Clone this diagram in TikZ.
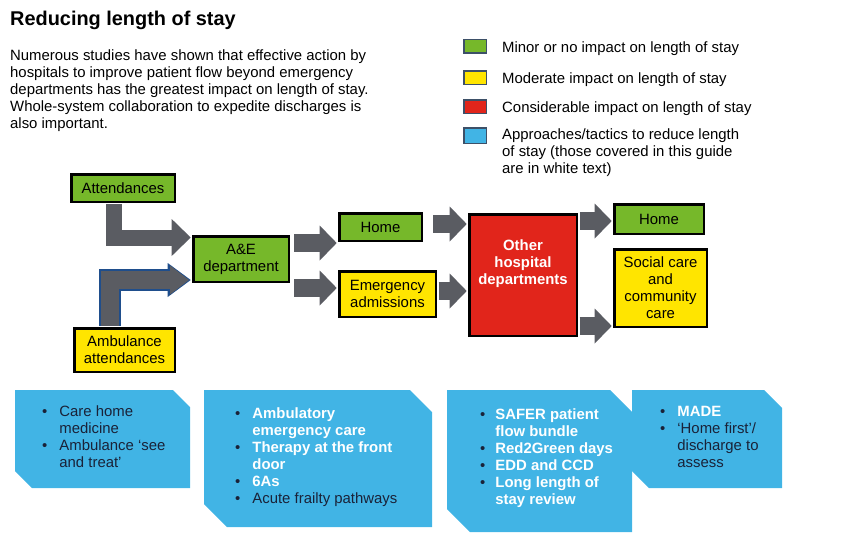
\documentclass[tikz,border=0pt]{standalone}
\usepackage{fontspec}
\setmainfont{Liberation Sans}
\usetikzlibrary{arrows.meta,calc}

\definecolor{minorgreen}{HTML}{76B82A}
\definecolor{modyellow}{HTML}{FFE500}
\definecolor{considred}{HTML}{E1251B}
\definecolor{tacticblue}{HTML}{41B4E5}
\definecolor{flowgrey}{HTML}{5A5C62}
\definecolor{flowedge}{HTML}{1F4E8C}
\definecolor{keyedge}{HTML}{3D5068}
\definecolor{tacticink}{HTML}{1A2238}

\newcommand{\covered}[1]{{\color{white}\bfseries #1}}

\begin{document}
\begin{tikzpicture}[x=1pt,y=-1pt,
    every node/.style={font=\fontsize{14.9}{17}\selectfont},
    impact/.style={draw=black,line width=2.5pt,align=center,inner sep=0pt},
    keybox/.style={draw=keyedge,line width=1.5pt,minimum width=22.5pt,minimum height=13.5pt,inner sep=0pt},
    keytext/.style={anchor=base west,inner sep=0pt},
    flow/.style={draw=flowgrey,line width=18pt,shorten >=1.3pt,-{Triangle[length=17pt,width=35pt,line width=0pt]}},
    tactic/.style={fill=tacticblue},
    tacticlist/.style={anchor=base west,inner sep=0pt,text=tacticink}]
\useasboundingbox (0,0) rectangle (850,555);

% heading and intro
\node[anchor=base west,inner sep=0pt,font=\fontsize{19.9}{22}\selectfont\bfseries] (title) at (10,25) {Reducing length of stay};
\node[anchor=base west,inner sep=0pt] (intro) at (10,60) {\begin{tabular}[t]{@{}l@{}}
Numerous studies have shown that effective action by\\
hospitals to improve patient flow beyond emergency\\
departments has the greatest impact on length of stay.\\
Whole-system collaboration to expedite discharges is\\
also important.\end{tabular}};

% key
\node[keybox,fill=minorgreen] (keyminor) at (475,46) {};
\node[keybox,fill=modyellow] (keymoderate) at (475,77.5) {};
\node[keybox,fill=considred] (keyconsid) at (475,106.5) {};
\node[keybox,fill=tacticblue,minimum height=15.5pt] (keytactic) at (475,135.5) {};
\node[keytext] (keyminortext) at (502,52) {Minor or no impact on length of stay};
\node[keytext] (keymoderatetext) at (502,83) {Moderate impact on length of stay};
\node[keytext] (keyconsidtext) at (502,112) {Considerable impact on length of stay};
\node[keytext] (keytactictext) at (502,139) {\begin{tabular}[t]{@{}l@{}}
Approaches/tactics to reduce length\\
of stay (those covered in this guide\\
are in white text)\end{tabular}};

% patient flow
\node[impact,fill=minorgreen,minimum width=103.5pt,minimum height=27.5pt] (att) at (123,188) {Attendances};
\node[impact,fill=minorgreen,minimum width=95.5pt,minimum height=45.5pt] (ae) at (241,259) {A\&E\\department};
\node[impact,fill=modyellow,minimum width=100.5pt,minimum height=43.5pt] (amb) at (124.5,350) {Ambulance\\attendances};
\node[impact,fill=minorgreen,minimum width=82.5pt,minimum height=27.5pt] (home) at (380.5,227) {Home};
\node[impact,fill=modyellow,minimum width=96.5pt,minimum height=45.5pt] (emerg) at (387.5,294) {Emergency\\admissions};
\node[impact,fill=considred,minimum width=107.5pt,minimum height=121.5pt] (other) at (523,275) {};
\node[font=\fontsize{14.9}{17}\selectfont\bfseries,text=white,align=center] (otherlabel) at (523,264) {Other\\hospital\\departments};
\node[impact,fill=minorgreen,minimum width=89.5pt,minimum height=29.5pt] (homeout) at (659,219) {Home};
\node[impact,fill=modyellow,minimum width=92.5pt,minimum height=77.5pt] (social) at (660.5,288) {Social care\\and\\community\\care};

\draw[flow,line width=16pt,-{Triangle[length=19pt,width=37pt,line width=0pt]}] ($(att.south)+(-9.5,1.3)$) |- ($(ae.west)+(0,-21.5)$);
\draw[flow,draw=flowedge,line width=22pt,-{Triangle[length=23pt,width=34pt,line width=0pt]}] ($(amb.north)+(-14.5,-1.3)$) |- ($(ae.west)+(0,21)$);
\draw[flow,shorten >=3pt,-{Triangle[length=19pt,width=29pt,line width=0pt]}] ($(amb.north)+(-14.5,-1.3)$) |- ($(ae.west)+(0,21)$);
\foreach \src/\dst/\dx/\dy in {ae/home/4/-16, ae/emerg/4/29, home/other/10/-3, emerg/other/1.5/-3, other/homeout/1.5/-54, other/social/1.5/51}
  \draw[flow] ($(\src.east)+(\dx,\dy)$) coordinate (start) -- (start -| \dst.west);

% tactics
\fill[tactic] (15,390) -- (173,390) -- (190,407) -- (190,488) -- (32,488) -- (15,471) -- cycle;
\fill[tactic] (204,390) -- (410,390) -- (432,412) -- (432,527) -- (227,527) -- (204,504) -- cycle;
\fill[tactic] (447,390) -- (610,390) -- (632,412) -- (632,532) -- (470,532) -- (447,509) -- cycle;
\fill[tactic] (632,390) -- (764,390) -- (782,408) -- (782,488) -- (649,488) -- (632,471) -- cycle;

\node[tacticlist] (tacarrive) at (42,416) {\begin{tabular}[t]{@{}l@{\hspace{12pt}}l@{}}
\textbullet & Care home\\
 & medicine\\
\textbullet & Ambulance ‘see\\
 & and treat’\end{tabular}};
\node[tacticlist] (tacfront) at (235,418) {\begin{tabular}[t]{@{}l@{\hspace{12pt}}l@{}}
\textbullet & \covered{Ambulatory}\\
 & \covered{emergency care}\\
\textbullet & \covered{Therapy at the front}\\
 & \covered{door}\\
\textbullet & \covered{6As}\\
\textbullet & Acute frailty pathways\end{tabular}};
\node[tacticlist] (tacward) at (480,419) {\begin{tabular}[t]{@{}l@{\hspace{10pt}}l@{}}
\textbullet & \covered{SAFER patient}\\
 & \covered{flow bundle}\\
\textbullet & \covered{Red2Green days}\\
\textbullet & \covered{EDD and CCD}\\
\textbullet & \covered{Long length of}\\
 & \covered{stay review}\end{tabular}};
\node[tacticlist] (tacleave) at (660,416) {\begin{tabular}[t]{@{}l@{\hspace{12pt}}l@{}}
\textbullet & \covered{MADE}\\
\textbullet & ‘Home first’/\\
 & discharge to\\
 & assess\end{tabular}};
\end{tikzpicture}
\end{document}
